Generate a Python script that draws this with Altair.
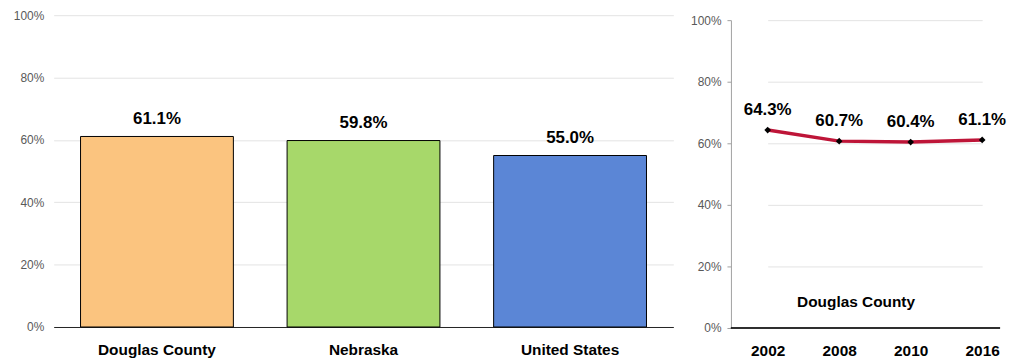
import altair as alt
import pandas as pd

regions = ["Douglas County", "Nebraska", "United States"]
region_values = [61.1, 59.8, 55.0]
region_colors = ["#FBC47F", "#A7D86A", "#5B86D6"]

years = ["2002", "2008", "2010", "2016"]
trend_values = [64.3, 60.7, 60.4, 61.1]

y_ticks = [0, 20, 40, 60, 80, 100]

BOLD_FONT = "Liberation Sans"
AXIS_FONT = "Liberation Sans"

df_bar = pd.DataFrame({"region": regions, "value": region_values})
df_bar["label"] = [f"{v:.1f}%" for v in region_values]
df_line = pd.DataFrame({"year": years, "value": trend_values})
df_line["label"] = [f"{v:.1f}%" for v in trend_values]

y_axis_left = alt.Axis(values=y_ticks, labelExpr="datum.value + '%'", title=None,
                       domain=False, ticks=False, gridColor="#E3E3E3",
                       labelColor="#595959", labelFontSize=12, labelFont=AXIS_FONT,
                       labelPadding=10)

base_bar = alt.Chart(df_bar)
x_bar = alt.X("region:N", sort=regions,
              scale=alt.Scale(paddingInner=0.26, paddingOuter=0.13),
              axis=alt.Axis(title=None, labelAngle=0, labelFont=BOLD_FONT,
                            labelFontSize=15.5, labelFontWeight="bold",
                            labelColor="black", ticks=False, domainColor="#222222",
                            labelPadding=16))
y_bar = alt.Y("value:Q", scale=alt.Scale(domain=[0, 100]), axis=y_axis_left)

bars = base_bar.mark_bar(stroke="black", strokeWidth=1).encode(
    x=x_bar, y=y_bar,
    color=alt.Color("region:N", scale=alt.Scale(domain=regions, range=region_colors), legend=None),
)
bar_text = base_bar.mark_text(dy=-18, fontSize=17, fontWeight="bold", font=BOLD_FONT,
                              color="black").encode(x=x_bar, y=y_bar, text="label:N")
left = (bars + bar_text).properties(width=624, height=314)

RIGHT_W = 271
y_axis_right = alt.Axis(values=y_ticks, labelExpr="datum.value + '%'", title=None,
                        domain=True, domainColor="#A0A0A0", ticks=True, tickColor="#A0A0A0",
                        tickSize=4, gridColor="#E3E3E3", labelColor="#595959",
                        labelFontSize=12, labelFont=AXIS_FONT, labelPadding=6)
x_line = alt.X("year:O", sort=years,
               scale=alt.Scale(type="point", padding=0, range=[37, 253]),
               axis=alt.Axis(title=None, labelAngle=0, labelFont=BOLD_FONT,
                             labelFontSize=15.5, labelFontWeight="bold", labelColor="black",
                             ticks=False, domain=False, labelPadding=16))
y_line = alt.Y("value:Q", scale=alt.Scale(domain=[0, 100], range=[315, 5]), axis=y_axis_right)

base_line = alt.Chart(df_line)
baseline = base_line.mark_rule(color="#222222", strokeWidth=1).encode(
    x=alt.value(0), x2=alt.value(RIGHT_W), y=alt.datum(0, scale=alt.Scale(domain=[0, 100], range=[315, 5]))
)
line = base_line.mark_line(color="#BE1538", strokeWidth=3.5).encode(x=x_line, y=y_line)
pts = base_line.mark_point(shape="diamond", filled=True, color="black", size=45, opacity=1).encode(x=x_line, y=y_line)
line_text = base_line.mark_text(dy=-20, fontSize=17, fontWeight="bold", font=BOLD_FONT,
                                color="black").encode(x=x_line, y=y_line, text="label:N")
name_text = alt.Chart(pd.DataFrame({"t": ["Douglas County"]})).mark_text(
    fontSize=15.5, fontWeight="bold", font=BOLD_FONT, color="black"
).encode(x=alt.value(126), y=alt.value(289), text="t:N")

right = (line + baseline + pts + line_text + name_text).properties(width=RIGHT_W, height=315)

chart = alt.hconcat(left, right, spacing=17).properties(
    padding={"left": 5, "top": 0, "right": 0, "bottom": 0}
).configure_view(stroke=None)

chart.save("out.html", embed_options={"renderer": "svg", "actions": False})
